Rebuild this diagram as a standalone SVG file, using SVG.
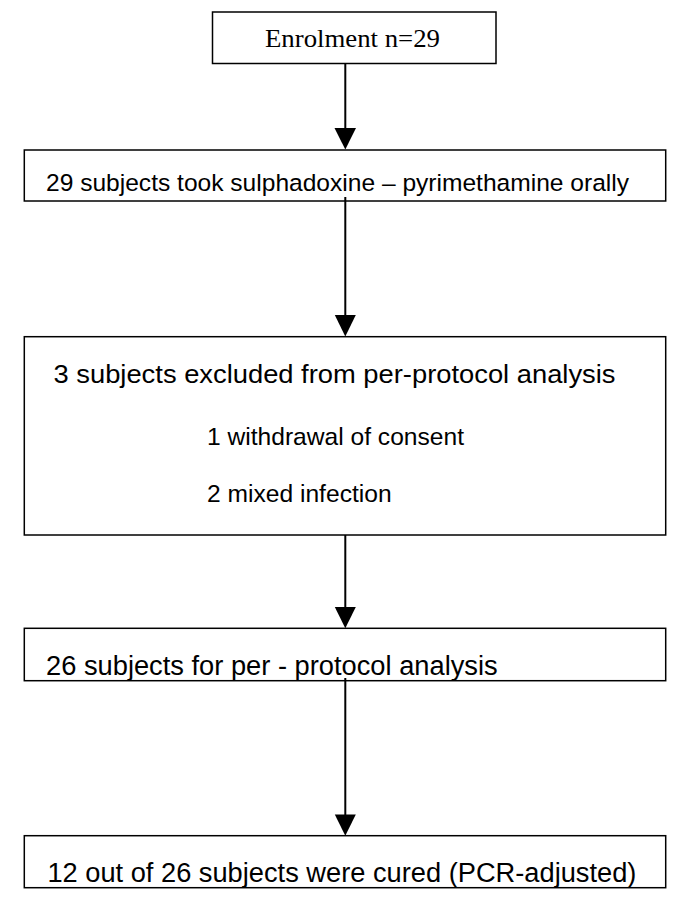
<svg xmlns="http://www.w3.org/2000/svg" width="685" height="918" viewBox="0 0 685 918">
<defs>
<style>
.box{fill:#fff;stroke:#000;stroke-width:1.5}
.t{font-family:"Liberation Sans",Arial,sans-serif;fill:#000}
.tt{font-family:"Liberation Serif","Times New Roman",serif;fill:#000}
.c{stroke:#000;stroke-width:2;fill:none}
.h{fill:#000;stroke:none}
</style>
</defs>
<rect width="685" height="918" fill="#fff"/>
<g id="n1">
<rect class="box" x="212.5" y="12" width="283.5" height="51.5"/>
<text class="tt" x="265" y="46.7" font-size="26" textLength="175" lengthAdjust="spacingAndGlyphs">Enrolment n=29</text>
</g>
<g id="n2">
<rect class="box" x="24.3" y="150" width="641.4" height="51"/>
<text class="t" x="46" y="190.7" font-size="24.5" textLength="583" lengthAdjust="spacingAndGlyphs">29 subjects took sulphadoxine – pyrimethamine orally</text>
</g>
<g id="n3">
<rect class="box" x="24.3" y="336.7" width="641.4" height="198.3"/>
<text class="t" x="53.5" y="383.3" font-size="26.5" textLength="562" lengthAdjust="spacingAndGlyphs">3 subjects excluded from per-protocol analysis</text>
<text class="t" x="207" y="445" font-size="24.6" textLength="257" lengthAdjust="spacingAndGlyphs">1 withdrawal of consent</text>
<text class="t" x="207" y="501.7" font-size="24.6" textLength="184.6" lengthAdjust="spacingAndGlyphs">2 mixed infection</text>
</g>
<g id="n4">
<rect class="box" x="24.3" y="628.3" width="641.4" height="52.4"/>
<text class="t" x="46" y="675" font-size="27" textLength="451.7" lengthAdjust="spacingAndGlyphs">26 subjects for per - protocol analysis</text>
</g>
<g id="n5">
<rect class="box" x="24.3" y="835.7" width="641.4" height="52"/>
<text class="t" x="47.4" y="881.7" font-size="27" textLength="589" lengthAdjust="spacingAndGlyphs">12 out of 26 subjects were cured (PCR-adjusted)</text>
</g>
<g id="connectors">
<line class="c" x1="345.3" y1="63.5" x2="345.3" y2="130"/>
<polygon class="h" points="334.5,128 356,128 345.3,149.5"/>
<line class="c" x1="345.3" y1="197" x2="345.3" y2="317"/>
<polygon class="h" points="334.8,315 355.8,315 345.3,336.5"/>
<line class="c" x1="345.3" y1="535" x2="345.3" y2="609"/>
<polygon class="h" points="334.8,607 355.8,607 345.3,628.3"/>
<line class="c" x1="345.3" y1="678" x2="345.3" y2="816"/>
<polygon class="h" points="334.8,814.5 355.8,814.5 345.3,835.7"/>
</g>
</svg>
